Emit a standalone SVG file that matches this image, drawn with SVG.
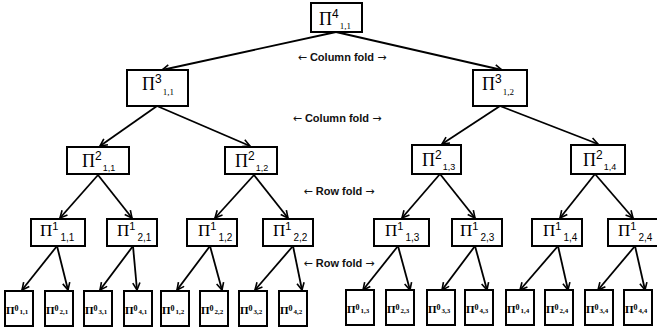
<svg xmlns="http://www.w3.org/2000/svg" width="657" height="335" viewBox="0 0 657 335">
<defs>
<marker id="ah" viewBox="0 0 10 10" refX="9" refY="5" markerWidth="9" markerHeight="9" markerUnits="userSpaceOnUse" orient="auto">
<path d="M1,1 L9,5 L1,9" fill="none" stroke="#000" stroke-width="1.8"/>
</marker>
</defs>
<style>
.box{fill:#fff;stroke:#000;stroke-width:2}
.edge{stroke:#000;stroke-width:1.8;fill:none;marker-end:url(#ah)}
.pi{font-family:"Liberation Serif",serif}
.num{font-family:"Liberation Sans",sans-serif}
.l0{font-family:"Liberation Serif",serif;font-weight:bold}
.lab{font-family:"Liberation Sans",sans-serif;font-size:11px;font-weight:bold;fill:#111}
.arr{font-family:"DejaVu Sans",sans-serif;font-weight:normal;font-size:11px}
</style>
<rect width="657" height="335" fill="#fff"/>
<g id="connectors">
<line class="edge" x1="336" y1="32" x2="162" y2="70"/>
<line class="edge" x1="336" y1="32" x2="502" y2="70"/>
<line class="edge" x1="157" y1="106" x2="100" y2="146"/>
<line class="edge" x1="157" y1="106" x2="250" y2="146"/>
<line class="edge" x1="500" y1="106" x2="442" y2="144"/>
<line class="edge" x1="500" y1="106" x2="598" y2="144"/>
<line class="edge" x1="98" y1="175" x2="60" y2="218"/>
<line class="edge" x1="98" y1="175" x2="132" y2="218"/>
<line class="edge" x1="254" y1="175" x2="215" y2="218"/>
<line class="edge" x1="254" y1="175" x2="288" y2="218"/>
<line class="edge" x1="440" y1="174" x2="402" y2="218"/>
<line class="edge" x1="440" y1="174" x2="475" y2="218"/>
<line class="edge" x1="595" y1="174" x2="560" y2="218"/>
<line class="edge" x1="595" y1="174" x2="633" y2="218"/>
<line class="edge" x1="57" y1="246" x2="22" y2="290"/>
<line class="edge" x1="57" y1="246" x2="68" y2="290"/>
<line class="edge" x1="133" y1="246" x2="100" y2="290"/>
<line class="edge" x1="133" y1="246" x2="137" y2="290"/>
<line class="edge" x1="210" y1="246" x2="177" y2="290"/>
<line class="edge" x1="210" y1="246" x2="222" y2="290"/>
<line class="edge" x1="293" y1="246" x2="255" y2="290"/>
<line class="edge" x1="293" y1="246" x2="302" y2="290"/>
<line class="edge" x1="398" y1="246" x2="363" y2="290"/>
<line class="edge" x1="398" y1="246" x2="410" y2="290"/>
<line class="edge" x1="475" y1="246" x2="442" y2="290"/>
<line class="edge" x1="475" y1="246" x2="487" y2="290"/>
<line class="edge" x1="558" y1="246" x2="520" y2="290"/>
<line class="edge" x1="558" y1="246" x2="568" y2="290"/>
<line class="edge" x1="635" y1="246" x2="598" y2="290"/>
<line class="edge" x1="635" y1="246" x2="645" y2="290"/>
</g>
<g id="labels">
<text class="lab" x="342" y="61" text-anchor="middle"><tspan class="arr">←</tspan> Column fold <tspan class="arr">→</tspan></text>
<text class="lab" x="337" y="122" text-anchor="middle"><tspan class="arr">←</tspan> Column fold <tspan class="arr">→</tspan></text>
<text class="lab" x="339" y="195" text-anchor="middle"><tspan class="arr">←</tspan> Row fold <tspan class="arr">→</tspan></text>
<text class="lab" x="339" y="267" text-anchor="middle"><tspan class="arr">←</tspan> Row fold <tspan class="arr">→</tspan></text>
</g>
<!-- level 4 -->
<g id="n4_11"><rect class="box" x="311" y="3" width="51" height="29"/><text x="319" y="25"><tspan class="pi" font-size="18">Π</tspan><tspan class="num" font-size="12" dy="-7">4</tspan><tspan class="pi" font-size="9" dy="11" dx="1">1,1</tspan></text></g>
<!-- level 3 -->
<g id="n3_11"><rect class="box" x="127" y="70" width="61" height="36"/><text x="142" y="90"><tspan class="pi" font-size="18">Π</tspan><tspan class="num" font-size="12" dy="-7">3</tspan><tspan class="pi" font-size="9" dy="12" dx="1">1,1</tspan></text></g>
<g id="n3_12"><rect class="box" x="473" y="70" width="54" height="36"/><text x="482" y="90"><tspan class="pi" font-size="18">Π</tspan><tspan class="num" font-size="12" dy="-7">3</tspan><tspan class="pi" font-size="9" dy="12" dx="1">1,2</tspan></text></g>
<!-- level 2 -->
<g id="n2_11"><rect class="box" x="67" y="147" width="62" height="27"/><text x="82" y="167"><tspan class="pi" font-size="18">Π</tspan><tspan class="num" font-size="12" dy="-7">2</tspan><tspan class="num" font-size="9" dy="11" dx="1">1,1</tspan></text></g>
<g id="n2_12"><rect class="box" x="225" y="147" width="52" height="27"/><text x="235" y="167"><tspan class="pi" font-size="18">Π</tspan><tspan class="num" font-size="12" dy="-7">2</tspan><tspan class="num" font-size="9" dy="11" dx="1">1,2</tspan></text></g>
<g id="n2_13"><rect class="box" x="412" y="145" width="49" height="29"/><text x="422" y="166"><tspan class="pi" font-size="18">Π</tspan><tspan class="num" font-size="12" dy="-7">2</tspan><tspan class="num" font-size="9" dy="11" dx="1">1,3</tspan></text></g>
<g id="n2_14"><rect class="box" x="571" y="145" width="54" height="29"/><text x="583" y="166"><tspan class="pi" font-size="18">Π</tspan><tspan class="num" font-size="12" dy="-7">2</tspan><tspan class="num" font-size="9" dy="11" dx="1">1,4</tspan></text></g>
<!-- level 1 -->
<g id="n1_11"><rect class="box" x="31" y="219" width="54" height="27"/><text x="40" y="236"><tspan class="pi" font-size="17">Π</tspan><tspan class="num" font-size="11" dy="-6">1</tspan><tspan class="num" font-size="10" dy="11" dx="2">1,1</tspan></text></g>
<g id="n1_21"><rect class="box" x="107" y="219" width="50" height="27"/><text x="117" y="236"><tspan class="pi" font-size="17">Π</tspan><tspan class="num" font-size="11" dy="-6">1</tspan><tspan class="num" font-size="10" dy="11" dx="2">2,1</tspan></text></g>
<g id="n1_12"><rect class="box" x="187" y="219" width="50" height="27"/><text x="198" y="236"><tspan class="pi" font-size="17">Π</tspan><tspan class="num" font-size="11" dy="-6">1</tspan><tspan class="num" font-size="10" dy="11" dx="2">1,2</tspan></text></g>
<g id="n1_22"><rect class="box" x="263" y="219" width="50" height="27"/><text x="273" y="236"><tspan class="pi" font-size="17">Π</tspan><tspan class="num" font-size="11" dy="-6">1</tspan><tspan class="num" font-size="10" dy="11" dx="2">2,2</tspan></text></g>
<g id="n1_13"><rect class="box" x="374" y="219" width="55" height="27"/><text x="385" y="236"><tspan class="pi" font-size="17">Π</tspan><tspan class="num" font-size="11" dy="-6">1</tspan><tspan class="num" font-size="10" dy="11" dx="2">1,3</tspan></text></g>
<g id="n1_23"><rect class="box" x="452" y="219" width="50" height="27"/><text x="460" y="236"><tspan class="pi" font-size="17">Π</tspan><tspan class="num" font-size="11" dy="-6">1</tspan><tspan class="num" font-size="10" dy="11" dx="2">2,3</tspan></text></g>
<g id="n1_14"><rect class="box" x="532" y="219" width="50" height="27"/><text x="543" y="236"><tspan class="pi" font-size="17">Π</tspan><tspan class="num" font-size="11" dy="-6">1</tspan><tspan class="num" font-size="10" dy="11" dx="2">1,4</tspan></text></g>
<g id="n1_24"><rect class="box" x="608" y="219" width="52" height="27"/><text x="618" y="236"><tspan class="pi" font-size="17">Π</tspan><tspan class="num" font-size="11" dy="-6">1</tspan><tspan class="num" font-size="10" dy="11" dx="2">2,4</tspan></text></g>
<!-- level 0 -->
<g id="n0_11"><rect class="box" x="5" y="291" width="28" height="35"/><text class="l0" x="6" y="314"><tspan font-size="11">Π</tspan><tspan font-size="8" dy="-3">0</tspan><tspan font-size="7" dy="3" dx="1">1,1</tspan></text></g>
<g id="n0_21"><rect class="box" x="45" y="291" width="28" height="35"/><text class="l0" x="46" y="314"><tspan font-size="11">Π</tspan><tspan font-size="8" dy="-3">0</tspan><tspan font-size="7" dy="3" dx="1">2,1</tspan></text></g>
<g id="n0_31"><rect class="box" x="84" y="291" width="28" height="35"/><text class="l0" x="85" y="314"><tspan font-size="11">Π</tspan><tspan font-size="8" dy="-3">0</tspan><tspan font-size="7" dy="3" dx="1">3,1</tspan></text></g>
<g id="n0_41"><rect class="box" x="124" y="291" width="28" height="35"/><text class="l0" x="125" y="314"><tspan font-size="11">Π</tspan><tspan font-size="8" dy="-3">0</tspan><tspan font-size="7" dy="3" dx="1">4,1</tspan></text></g>
<g id="n0_12"><rect class="box" x="161" y="291" width="28" height="35"/><text class="l0" x="162" y="314"><tspan font-size="11">Π</tspan><tspan font-size="8" dy="-3">0</tspan><tspan font-size="7" dy="3" dx="1">1,2</tspan></text></g>
<g id="n0_22"><rect class="box" x="200" y="291" width="28" height="35"/><text class="l0" x="201" y="314"><tspan font-size="11">Π</tspan><tspan font-size="8" dy="-3">0</tspan><tspan font-size="7" dy="3" dx="1">2,2</tspan></text></g>
<g id="n0_32"><rect class="box" x="239" y="291" width="28" height="35"/><text class="l0" x="240" y="314"><tspan font-size="11">Π</tspan><tspan font-size="8" dy="-3">0</tspan><tspan font-size="7" dy="3" dx="1">3,2</tspan></text></g>
<g id="n0_42"><rect class="box" x="279" y="291" width="28" height="35"/><text class="l0" x="280" y="314"><tspan font-size="11">Π</tspan><tspan font-size="8" dy="-3">0</tspan><tspan font-size="7" dy="3" dx="1">4,2</tspan></text></g>
<g id="n0_13"><rect class="box" x="346" y="290" width="28" height="35"/><text class="l0" x="347" y="313"><tspan font-size="11">Π</tspan><tspan font-size="8" dy="-3">0</tspan><tspan font-size="7" dy="3" dx="1">1,3</tspan></text></g>
<g id="n0_23"><rect class="box" x="386" y="290" width="28" height="35"/><text class="l0" x="387" y="313"><tspan font-size="11">Π</tspan><tspan font-size="8" dy="-3">0</tspan><tspan font-size="7" dy="3" dx="1">2,3</tspan></text></g>
<g id="n0_33"><rect class="box" x="427" y="290" width="28" height="35"/><text class="l0" x="428" y="313"><tspan font-size="11">Π</tspan><tspan font-size="8" dy="-3">0</tspan><tspan font-size="7" dy="3" dx="1">3,3</tspan></text></g>
<g id="n0_43"><rect class="box" x="465" y="290" width="28" height="35"/><text class="l0" x="466" y="313"><tspan font-size="11">Π</tspan><tspan font-size="8" dy="-3">0</tspan><tspan font-size="7" dy="3" dx="1">4,3</tspan></text></g>
<g id="n0_14"><rect class="box" x="506" y="290" width="28" height="35"/><text class="l0" x="507" y="313"><tspan font-size="11">Π</tspan><tspan font-size="8" dy="-3">0</tspan><tspan font-size="7" dy="3" dx="1">1,4</tspan></text></g>
<g id="n0_24"><rect class="box" x="545" y="290" width="28" height="35"/><text class="l0" x="546" y="313"><tspan font-size="11">Π</tspan><tspan font-size="8" dy="-3">0</tspan><tspan font-size="7" dy="3" dx="1">2,4</tspan></text></g>
<g id="n0_34"><rect class="box" x="585" y="290" width="28" height="35"/><text class="l0" x="586" y="313"><tspan font-size="11">Π</tspan><tspan font-size="8" dy="-3">0</tspan><tspan font-size="7" dy="3" dx="1">3,4</tspan></text></g>
<g id="n0_44"><rect class="box" x="624" y="290" width="28" height="35"/><text class="l0" x="625" y="313"><tspan font-size="11">Π</tspan><tspan font-size="8" dy="-3">0</tspan><tspan font-size="7" dy="3" dx="1">4,4</tspan></text></g>
</svg>
